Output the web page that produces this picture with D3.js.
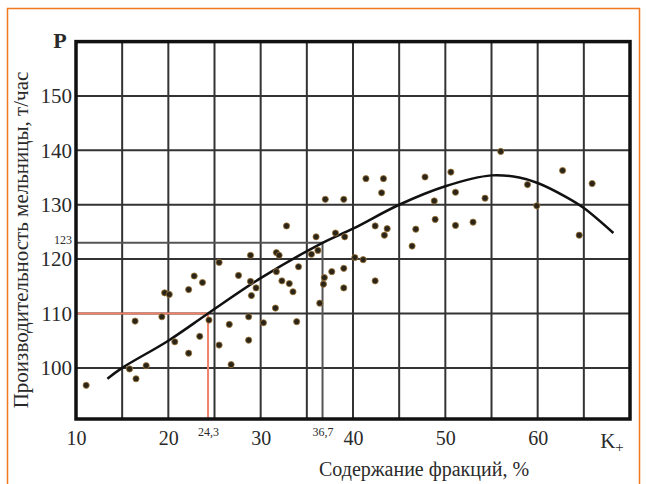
<!DOCTYPE html>
<html>
<head>
<meta charset="utf-8">
<script src="https://cdn.jsdelivr.net/npm/d3@7"></script>
<style>
  body { margin: 0; background: #fff; }
  svg text { font-family: "Liberation Serif", "DejaVu Serif", serif; fill: #2a2a2a; }
</style>
</head>
<body>
<div id="chart"></div>
<script>
// points: content of fraction (%) vs mill output (t/h)
var pointX = [11.1, 15.8, 16.5, 17.6, 16.4, 19.3, 19.6, 20.1, 20.7, 22.2, 22.2, 22.8, 23.4, 23.7, 24.4,
    25.5, 25.5, 26.6, 26.8, 27.6, 28.7, 28.7, 28.9, 28.9, 29.0, 29.5, 30.3, 31.6, 31.7, 32.0,
    31.7, 32.3, 33.1, 32.8, 33.5, 33.9, 34.1, 35.5, 36.2, 36.0, 36.4, 36.8, 36.9, 37.0, 37.7,
    39.0, 39.0, 39.0, 39.1, 38.1, 40.2, 41.1, 41.4, 43.3, 43.1, 42.4, 43.7, 43.4, 42.4, 46.4,
    46.8, 47.8, 48.8, 48.9, 50.6, 51.1, 51.1, 53.0, 54.3, 56.0, 58.9, 59.9, 62.7, 65.9, 64.5];
var pointY = [96.8, 99.8, 98.0, 100.4, 108.6, 109.4, 113.8, 113.5, 104.8, 102.7, 114.4, 116.9, 105.8, 115.7, 108.8,
    119.4, 104.2, 108.0, 100.6, 117.0, 109.4, 105.1, 120.7, 115.9, 113.3, 114.7, 108.3, 111.0, 121.2, 120.7,
    117.7, 116.0, 115.5, 126.1, 114.0, 108.5, 118.6, 120.9, 121.6, 124.1, 111.9, 115.4, 116.6, 131.0, 117.7,
    118.3, 114.7, 131.0, 124.1, 124.8, 120.3, 119.9, 134.8, 134.8, 132.2, 126.1, 125.6, 124.4, 116.0, 122.4,
    125.5, 135.1, 130.7, 127.3, 136.0, 132.3, 126.2, 126.8, 131.2, 139.8, 133.7, 129.8, 136.3, 133.9, 124.4];

// fitted curve
var curveX = [13.4, 15, 20, 24.3, 30, 36.7, 40, 45, 50, 55, 58, 60, 63, 65, 68.2];
var curveY = [98, 100, 105, 110, 116.5, 123, 125.6, 130, 133.4, 135.4, 135, 134, 131.5, 129.4, 124.8];

var xTicks = [10, 20, 30, 40, 50, 60];
var yTicks = [100, 110, 120, 130, 140, 150];
var xGrid = [15, 20, 25, 30, 35, 40, 45, 50, 55, 60, 65];
var yGrid = [100, 110, 120, 130, 140, 150];
// reading lines: 24,3 -> 110 and 36,7 -> 123
var markX = [24.3, 36.7];
var markY = [110, 123];
var markColor = ["#f0826a", "#555"];

var width = 646, height = 484;

var svg = d3.select("#chart").append("svg")
    .attr("width", width)
    .attr("height", height);

// orange border of the picture
svg.append("path")
    .attr("d", "M7.5,484 V8.5 H639.5 V484")
    .attr("fill", "none")
    .attr("stroke", "#f07a20")
    .attr("stroke-width", 1.5);

var x = d3.scaleLinear().domain([10, 70]).range([76, 630]);
var y = d3.scaleLinear().domain([90.6, 160]).range([419, 41.6]);

// grid
svg.selectAll("line.vgrid")
    .data(xGrid)
    .enter()
    .append("line")
    .classed("vgrid", true)
    .attr("x1", d => x(d)).attr("x2", d => x(d))
    .attr("y1", y(160)).attr("y2", y(90.6))
    .attr("stroke", "#333")
    .attr("stroke-width", 2);

svg.selectAll("line.hgrid")
    .data(yGrid)
    .enter()
    .append("line")
    .classed("hgrid", true)
    .attr("x1", x(10)).attr("x2", x(70))
    .attr("y1", d => y(d)).attr("y2", d => y(d))
    .attr("stroke", "#333")
    .attr("stroke-width", 2);

// reading lines
markX.forEach(function (mx, i) {
    var my = markY[i];
    svg.append("path")
        .attr("d", `M${x(10)},${y(my)} H${x(mx)} V${y(90.6)}`)
        .attr("fill", "none")
        .attr("stroke", markColor[i])
        .attr("stroke-width", 2);
});

// frame
svg.append("rect")
    .attr("x", x(10))
    .attr("y", y(160))
    .attr("width", x(70) - x(10))
    .attr("height", y(90.6) - y(160))
    .attr("fill", "none")
    .attr("stroke", "#111")
    .attr("stroke-width", 3.5);

// curve
var line = d3.line()
    .x(d => x(d[0]))
    .y(d => y(d[1]))
    .curve(d3.curveCatmullRom);

svg.append("path")
    .datum(curveX.map((v, i) => [v, curveY[i]]))
    .attr("d", line)
    .attr("fill", "none")
    .attr("stroke", "#111")
    .attr("stroke-width", 2.5);

// points
svg.selectAll("circle")
    .data(pointX.map((v, i) => [v, pointY[i]]))
    .enter()
    .append("circle")
    .attr("cx", d => x(d[0]))
    .attr("cy", d => y(d[1]))
    .attr("r", 3.1)
    .attr("fill", "#2b2418")
    .attr("stroke", "#a07838")
    .attr("stroke-width", 0.8);

// axes
var xAxis = d3.axisBottom(x)
    .tickValues(xTicks)
    .tickSize(0)
    .tickPadding(12)
    .tickFormat(d3.format("d"));

var gx = svg.append("g")
    .attr("transform", `translate(0, ${y(90.6)})`)
    .call(xAxis);
gx.select(".domain").remove();
gx.selectAll("text").attr("font-size", 20);

var xMarkAxis = d3.axisBottom(x)
    .tickValues(markX)
    .tickSize(0)
    .tickPadding(8)
    .tickFormat(d => String(d).replace(".", ","));

var gx2 = svg.append("g")
    .attr("transform", `translate(0, ${y(90.6)})`)
    .call(xMarkAxis);
gx2.select(".domain").remove();
gx2.selectAll("text").attr("font-size", 12);

var yAxis = d3.axisLeft(y)
    .tickValues(yTicks)
    .tickSize(0)
    .tickPadding(4)
    .tickFormat(d3.format("d"));

var gy = svg.append("g")
    .attr("transform", `translate(${x(10)}, 0)`)
    .call(yAxis);
gy.select(".domain").remove();
gy.selectAll("text").attr("font-size", 21);

var gy2 = svg.append("g")
    .attr("transform", `translate(${x(10)}, -3)`)
    .call(d3.axisLeft(y).tickValues([markY[1]]).tickSize(0).tickPadding(4));
gy2.select(".domain").remove();
gy2.selectAll("text").attr("font-size", 12);

svg.selectAll(".tick text").attr("fill", "#2a2a2a");

// labels
svg.append("text")
    .attr("x", 60)
    .attr("y", 48)
    .attr("text-anchor", "middle")
    .attr("font-size", 22)
    .attr("font-weight", "bold")
    .text("P");

svg.append("text")
    .attr("x", 612)
    .attr("y", 448)
    .attr("text-anchor", "middle")
    .attr("font-size", 21)
    .text("K")
    .append("tspan")
    .attr("font-size", 15)
    .attr("dy", 4)
    .text("+");

svg.append("text")
    .attr("x", 424)
    .attr("y", 476)
    .attr("text-anchor", "middle")
    .attr("font-size", 20)
    .text("Содержание фракций, %");

svg.append("text")
    .attr("transform", "translate(28, 240) rotate(-90)")
    .attr("text-anchor", "middle")
    .attr("font-size", 21)
    .text("Производительность мельницы, т/час");
</script>
</body>
</html>
